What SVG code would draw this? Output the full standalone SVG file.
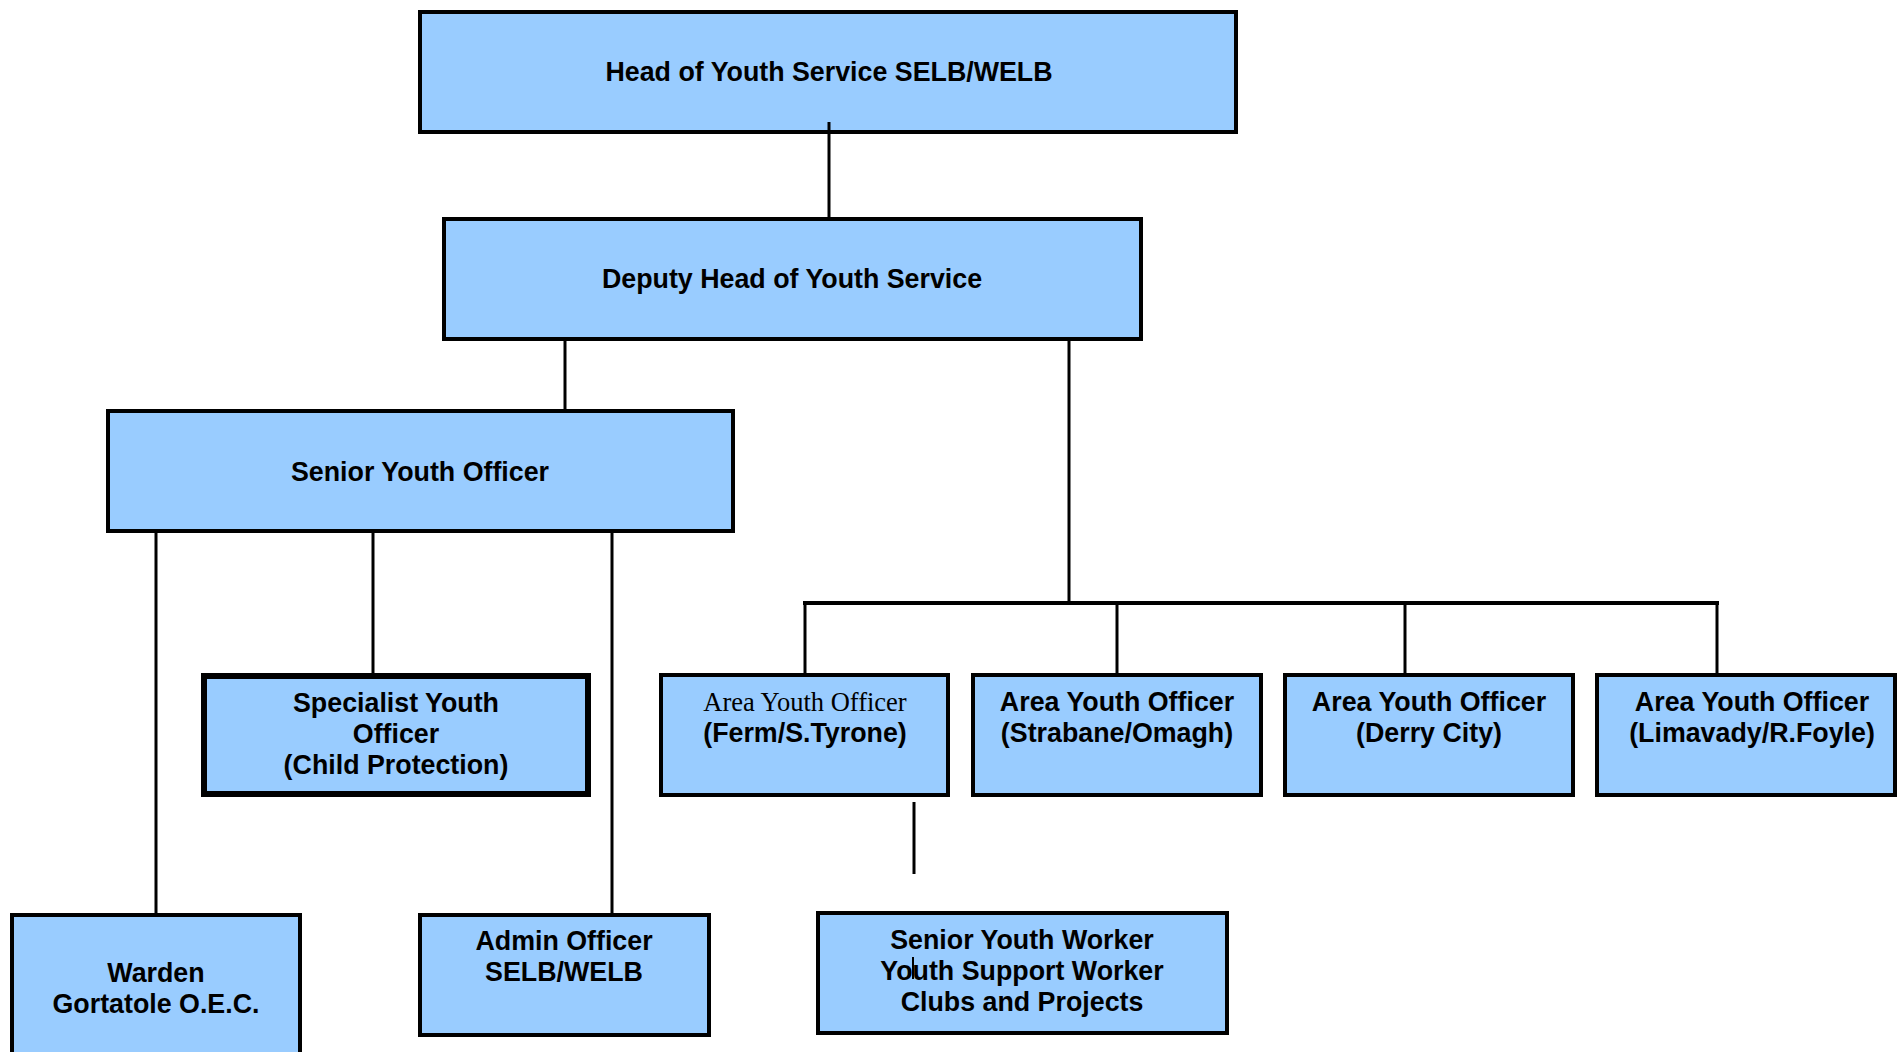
<svg xmlns="http://www.w3.org/2000/svg" width="1897" height="1052" viewBox="0 0 1897 1052">
<style>
.box{fill:#99ccff;stroke:#000;stroke-width:4}
.thick{stroke-width:6}
.t{font-family:"Liberation Sans",Arial,sans-serif;font-weight:bold;font-size:26.8px;fill:#000;text-anchor:middle}
.s{font-family:"Liberation Serif","Times New Roman",serif;font-weight:normal;font-size:26.5px;fill:#000;text-anchor:middle}
.c line{stroke:#000;stroke-width:3}
</style>
<rect width="1897" height="1052" fill="#fff"/>
<g id="head">
<rect class="box" x="420" y="12" width="816" height="120"/>
<text class="t" x="829" y="81">Head of Youth Service SELB/WELB</text>
</g>
<g id="deputy">
<rect class="box" x="444" y="219" width="697" height="120"/>
<text class="t" x="792" y="288">Deputy Head of Youth Service</text>
</g>
<g id="senior-youth-officer">
<rect class="box" x="108" y="411" width="625" height="120"/>
<text class="t" x="420" y="481">Senior Youth Officer</text>
</g>
<g id="specialist">
<rect class="box thick" x="204" y="676" width="384" height="118"/>
<text class="t" x="396" y="712">Specialist Youth</text>
<text class="t" x="396" y="743">Officer</text>
<text class="t" x="396" y="774">(Child Protection)</text>
</g>
<g id="area-ferm">
<rect class="box" x="661" y="675" width="287" height="120"/>
<text class="s" x="805" y="711">Area Youth Officer</text>
<text class="t" x="805" y="742">(Ferm/S.Tyrone)</text>
</g>
<g id="area-strabane">
<rect class="box" x="973" y="675" width="288" height="120"/>
<text class="t" x="1117" y="711">Area Youth Officer</text>
<text class="t" x="1117" y="742">(Strabane/Omagh)</text>
</g>
<g id="area-derry">
<rect class="box" x="1285" y="675" width="288" height="120"/>
<text class="t" x="1429" y="711">Area Youth Officer</text>
<text class="t" x="1429" y="742">(Derry City)</text>
</g>
<g id="area-limavady">
<rect class="box" x="1597" y="675" width="298" height="120"/>
<text class="t" x="1752" y="711">Area Youth Officer</text>
<text class="t" x="1752" y="742">(Limavady/R.Foyle)</text>
</g>
<g id="warden">
<rect class="box" x="12" y="915" width="288" height="150"/>
<text class="t" x="156" y="982">Warden</text>
<text class="t" x="156" y="1013">Gortatole O.E.C.</text>
</g>
<g id="admin">
<rect class="box" x="420" y="915" width="289" height="120"/>
<text class="t" x="564" y="950">Admin Officer</text>
<text class="t" x="564" y="981">SELB/WELB</text>
</g>
<g id="senior-youth-worker">
<rect class="box" x="818" y="913" width="409" height="120"/>
<text class="t" x="1022" y="949">Senior Youth Worker</text>
<text class="t" x="1022" y="980">Youth Support Worker</text>
<text class="t" x="1022" y="1011">Clubs and Projects</text>
<line x1="913" y1="957" x2="913" y2="979" stroke="#000" stroke-width="2"/>
</g>
<g id="connectors" class="c">
<line x1="829" y1="122" x2="829" y2="217"/>
<line x1="565" y1="341" x2="565" y2="409"/>
<line x1="1069" y1="341" x2="1069" y2="603"/>
<line x1="803" y1="603" x2="1719" y2="603" style="stroke-width:4"/>
<line x1="805" y1="603" x2="805" y2="673"/>
<line x1="1117" y1="603" x2="1117" y2="673"/>
<line x1="1405" y1="603" x2="1405" y2="673"/>
<line x1="1717" y1="603" x2="1717" y2="673"/>
<line x1="156" y1="533" x2="156" y2="913"/>
<line x1="373" y1="533" x2="373" y2="673"/>
<line x1="612" y1="533" x2="612" y2="913"/>
<line x1="914" y1="802" x2="914" y2="874"/>
</g>
</svg>
